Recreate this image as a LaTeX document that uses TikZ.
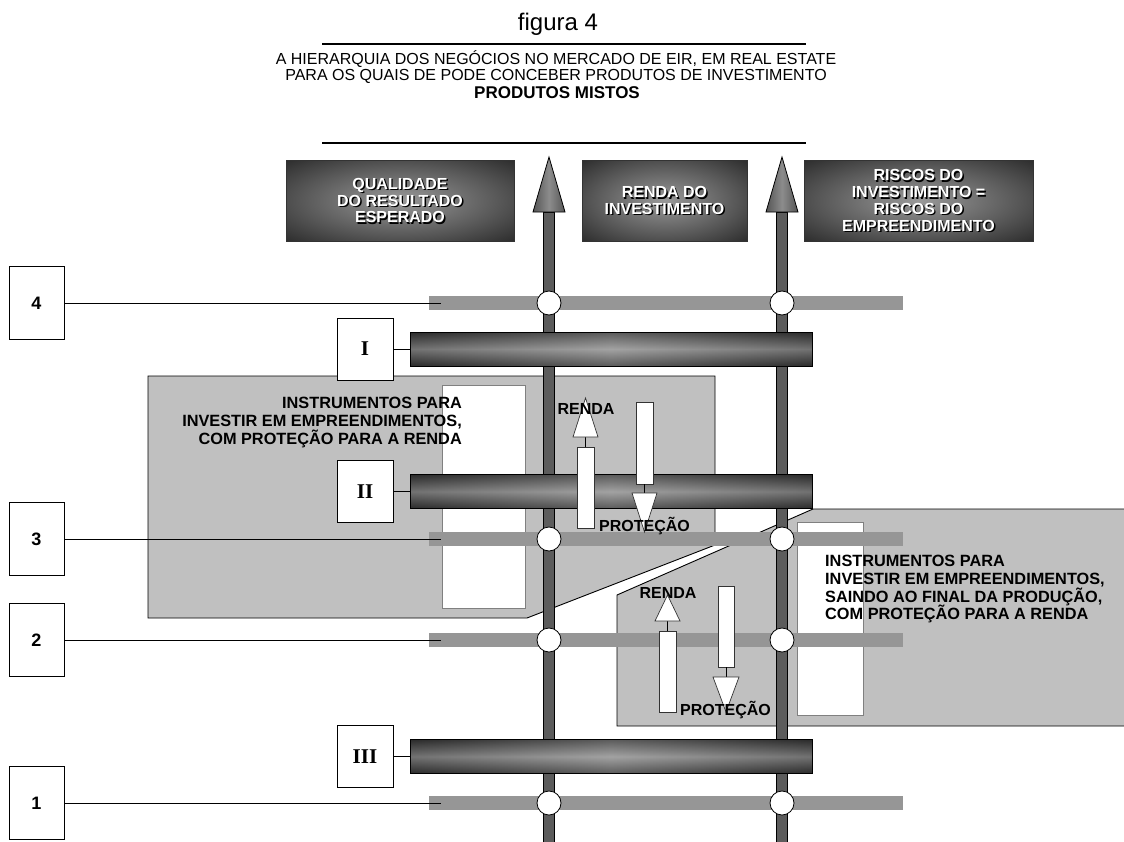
\documentclass[tikz,border=0pt]{standalone}
\usepackage{fontspec}
\setmainfont{Liberation Sans}
\newfontfamily\romanfont{Liberation Serif}
\usetikzlibrary{calc}

\definecolor{barGray}{HTML}{969696}
\definecolor{panelGray}{HTML}{C0C0C0}
\definecolor{rimGray}{HTML}{808080}

% shadings for the dark beams, header plates, pole heads and poles
\pgfdeclarehorizontalshading{barshade}{100bp}{color(0bp)=(black); color(18bp)=(black!84); color(50bp)=(black!50); color(82bp)=(black!84); color(100bp)=(black)}
\pgfdeclareradialshading{boxglow}{\pgfpoint{0bp}{0bp}}{color(0bp)=(black!40); color(22bp)=(black!66); color(40bp)=(black!88); color(50bp)=(black!96); color(71bp)=(black)}
\pgfdeclarehorizontalshading{coneshade}{100bp}{color(0bp)=(black!88); color(50bp)=(black!45); color(100bp)=(black!88)}
\pgfdeclareverticalshading{poleshade}{100bp}{color(0bp)=(black); color(12bp)=(black!82); color(25bp)=(black!64); color(82bp)=(black!64); color(92bp)=(black!85); color(100bp)=(black)}

\begin{document}
\begin{tikzpicture}[x=1pt,y=-1pt,
  rule/.style={line width=1.2pt},
  titleline/.style={anchor=base, inner sep=0pt, font=\fontsize{16}{16}\selectfont},
  hdrbox/.style={shade, shading=boxglow, draw=black!80, line width=0.6pt, inner sep=0pt},
  hdrtext/.style={text=white, align=center, inner sep=0pt, font=\fontsize{16}{16.7}\selectfont\bfseries},
  hdrshadow/.style={hdrtext, text=black},
  numbox/.style={draw=black, fill=white, line width=0.8pt, minimum width=55pt, minimum height=73pt, inner sep=0pt, font=\fontsize{18}{18}\selectfont\bfseries},
  romanbox/.style={draw=black, fill=white, line width=0.8pt, minimum width=56pt, minimum height=62pt, inner sep=0pt, font=\romanfont\fontsize{21}{21}\selectfont\bfseries},
  graybar/.style={fill=barGray, minimum width=474pt, minimum height=14pt, inner sep=0pt},
  darkbar/.style={shade, shading=barshade, draw=black, line width=0.8pt, minimum width=402pt, minimum height=34pt, inner sep=0pt,
    path picture={\shade[top color=black, bottom color=black, middle color=white, fill opacity=0.28]
      (path picture bounding box.north west) rectangle (path picture bounding box.south east);}},
  joint/.style={circle, draw=black, fill=white, line width=0.8pt, minimum size=24pt, inner sep=0pt},
  tie/.style={line width=0.8pt},
  pole/.style={shade, shading=poleshade, draw=black, line width=1.3pt},
  cone/.style={shade, shading=coneshade, draw=black, line width=0.8pt},
  panel/.style={fill=panelGray, draw=black, line width=0.9pt},
  window/.style={fill=white, draw=rimGray, line width=0.9pt},
  blockbody/.style={fill=white, draw=black!80, line width=0.7pt},
  blockhead/.style={fill=white, draw=black!80, line width=0.7pt},
  tag/.style={inner sep=0pt, font=\fontsize{16}{16}\selectfont\bfseries},
  paneltext/.style={inner sep=0pt, font=\fontsize{16.3}{18}\selectfont\bfseries}
]
\useasboundingbox (0,0) rectangle (1124,841);
\fill[white] (0,0) rectangle (1124,841);

% ---- heading block
\node[anchor=base, inner sep=0pt, font=\fontsize{24}{24}\selectfont] (figlabel) at (558,30) {figura 4};
\draw[rule] (322,44) -- (806,44);
\node[titleline] (title1) at (556,64) {A HIERARQUIA DOS NEGÓCIOS NO MERCADO DE EIR, EM REAL ESTATE};
\node[titleline] (title2) at (556,80.5) {PARA OS QUAIS DE PODE CONCEBER PRODUTOS DE INVESTIMENTO};
\node[titleline, font=\fontsize{17}{17}\selectfont\bfseries] (title3) at (557,98) {PRODUTOS MISTOS};
\draw[rule] (322,143) -- (806,143);

% ---- header plates
\node[hdrbox, minimum width=228pt, minimum height=81pt] (plateA) at (400,200.5) {};
\node[hdrbox, minimum width=165pt, minimum height=81pt] (plateB) at (664.5,200.5) {};
\node[hdrbox, minimum width=229pt, minimum height=81pt] (plateC) at (918.5,200.5) {};
\node[hdrshadow] (plateAs) at ($(plateA)+(1.4,1.4)$) {QUALIDADE\\DO RESULTADO\\ESPERADO};
\node[hdrtext] (plateAt) at (plateA) {QUALIDADE\\DO RESULTADO\\ESPERADO};
\node[hdrshadow] (plateBs) at ($(plateB)+(1.4,1.4)$) {RENDA DO\\INVESTIMENTO};
\node[hdrtext] (plateBt) at (plateB) {RENDA DO\\INVESTIMENTO};
\node[hdrshadow] (plateCs) at ($(plateC)+(1.4,1.4)$) {RISCOS DO\\INVESTIMENTO =\\RISCOS DO\\EMPREENDIMENTO};
\node[hdrtext] (plateCt) at (plateC) {RISCOS DO\\INVESTIMENTO =\\RISCOS DO\\EMPREENDIMENTO};

% ---- shaded panels with their inner windows
\draw[panel] (148,376) -- (715,376) -- (715,545) -- (527,618) -- (148,618) -- cycle;
\draw[window] (442,385) rectangle (525,608);
\draw[panel] (1140,726) -- (617,726) -- (617,595) -- (813,509) -- (1140,509) -- cycle;
\draw[window] (797,522) rectangle (863,715);

% ---- level bars and their number boxes
\foreach \lv/\yy in {4/303, 3/539, 2/640, 1/803}{
  \node[graybar] (level\lv) at (666,\yy) {};
  \coordinate (levelend\lv) at (441,\yy);
  \node[numbox] (num\lv) at (36.5,\yy) {\lv};
  \draw[tie] (num\lv.east) -- (levelend\lv);
}

% ---- the two rising poles
\path[pole] (543.5,212) rectangle (554.5,846);
\path[pole] (776.5,212) rectangle (787.5,846);
\path[cone] (533,212) -- (565,212) -- (549,157) -- cycle;
\path[cone] (766,212) -- (798,212) -- (782,157) -- cycle;

% ---- joints where the poles cross the level bars
\foreach \lv/\yy in {4/303, 3/539, 2/640, 1/803}{
  \node[joint] (jointL\lv) at (549,\yy) {};
  \node[joint] (jointR\lv) at (782,\yy) {};
}

% ---- dark beams and roman labels
\foreach \rn/\yy/\txt in {1/349/I, 2/491.5/II, 3/756.5/III}{
  \node[darkbar] (beam\rn) at (611,\yy) {};
  \node[romanbox] (roman\rn) at (365,\yy) {\txt};
  \draw[tie] (roman\rn.east) -- (beam\rn.west);
}

% ---- income / protection arrows, upper panel
\draw[blockbody] (577,447) rectangle (594,528);
\draw[tie] (585.5,447) -- (585.5,437);
\draw[blockhead] (573,437) -- (598,437) -- (585.5,398) -- cycle;
\draw[blockbody] (636,402) rectangle (653,484);
\draw[tie] (644.5,484) -- (644.5,493);
\draw[blockhead] (632,493) -- (657,493) -- (644.5,532) -- cycle;
\node[tag, anchor=base] (rendaUp) at (586,414) {RENDA};
\node[tag, anchor=base west] (protUp) at (599,531) {PROTEÇÃO};

% ---- income / protection arrows, lower panel
\draw[blockbody] (659,631) rectangle (676,712);
\draw[tie] (667.5,631) -- (667.5,621);
\draw[blockhead] (655,621) -- (680,621) -- (667.5,595) -- cycle;
\draw[blockbody] (718,586) rectangle (734,667);
\draw[tie] (726,667) -- (726,677);
\draw[blockhead] (713,677) -- (739,677) -- (726,712) -- cycle;
\node[tag, anchor=base] (rendaLow) at (668,598) {RENDA};
\node[tag, anchor=base west] (protLow) at (680,715) {PROTEÇÃO};

% ---- panel captions
\node[paneltext, anchor=base east] (capA1) at (462,408) {INSTRUMENTOS PARA};
\node[paneltext, anchor=base east] (capA2) at (462,426) {INVESTIR EM EMPREENDIMENTOS,};
\node[paneltext, anchor=base east] (capA3) at (462,444) {COM PROTEÇÃO PARA A RENDA};
\node[paneltext, anchor=base west] (capB1) at (825,566) {INSTRUMENTOS PARA};
\node[paneltext, anchor=base west] (capB2) at (825,584) {INVESTIR EM EMPREENDIMENTOS,};
\node[paneltext, anchor=base west] (capB3) at (825,602) {SAINDO AO FINAL DA PRODUÇÃO,};
\node[paneltext, anchor=base west] (capB4) at (825,619) {COM PROTEÇÃO PARA A RENDA};
\end{tikzpicture}
\end{document}
